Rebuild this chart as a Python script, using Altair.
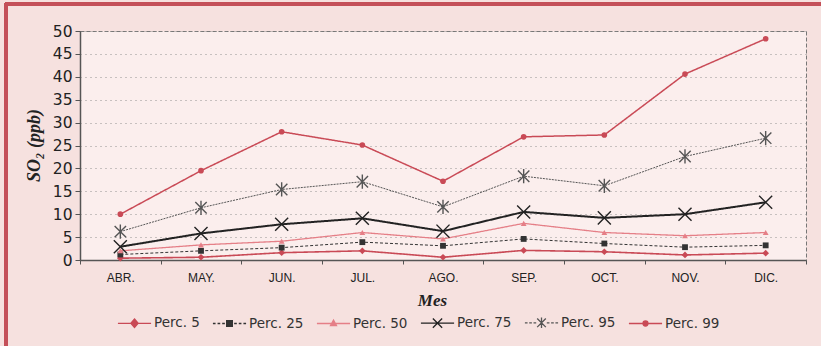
import altair as alt
import pandas as pd

# Monthly SO2 percentiles (ppb)
meses = ["ABR.", "MAY.", "JUN.", "JUL.", "AGO.", "SEP.", "OCT.", "NOV.", "DIC."]
series = ["Perc. 5", "Perc. 25", "Perc. 50", "Perc. 75", "Perc. 95", "Perc. 99"]

p5 = [0.4, 0.6, 1.6, 2.0, 0.6, 2.1, 1.8, 1.1, 1.5]
p25 = [1.2, 2.0, 2.7, 3.9, 3.1, 4.6, 3.6, 2.8, 3.2]
p50 = [2.0, 3.3, 4.1, 6.0, 4.6, 8.0, 6.0, 5.3, 6.0]
p75 = [2.9, 5.8, 7.8, 9.1, 6.3, 10.5, 9.2, 10.0, 12.6]
p95 = [6.2, 11.4, 15.4, 17.1, 11.6, 18.3, 16.2, 22.6, 26.6]
p99 = [10.0, 19.5, 28.0, 25.1, 17.2, 26.9, 27.3, 40.6, 48.3]

valores = [p5, p25, p50, p75, p95, p99]

rows = []
for nombre, vals in zip(series, valores):
    for mes, v in zip(meses, vals):
        rows.append({"Mes": mes, "SO2": v, "Serie": nombre})
df = pd.DataFrame(rows)

# line / marker styling for each series
X_PATH = "M-1,-1L1,1M-1,1L1,-1"
AST_PATH = "M-1,-1L1,1M-1,1L1,-1M0,-1.25L0,1.25"
estilos = {
    "Perc. 5": dict(color="#c94a56", width=1.6, dash=[1, 0], shape="diamond", size=45, filled=True),
    "Perc. 25": dict(color="#333333", width=1.0, dash=[3, 2], shape="square", size=34, filled=True),
    "Perc. 50": dict(color="#e57f87", width=1.3, dash=[1, 0], shape="triangle-up", size=34, filled=True),
    "Perc. 75": dict(color="#222222", width=2.0, dash=[1, 0], shape=X_PATH, size=170, filled=False),
    "Perc. 95": dict(color="#555555", width=1.0, dash=[2, 1], shape=AST_PATH, size=130, filled=False),
    "Perc. 99": dict(color="#c94a56", width=1.5, dash=[1, 0], shape="circle", size=32, filled=True),
}

# legend glyphs: a short line with the marker in the middle
leg_paths = [
    "M-1,0H1M0,-0.26L0.22,0L0,0.26L-0.22,0Z",
    "M-1,0H-0.84M-0.72,0H-0.56M-0.44,0H-0.28M0.28,0H0.44M0.56,0H0.72M0.84,0H1"
    "M-0.17,-0.17H0.17V0.17H-0.17Z",
    "M-1,0H1M0,-0.2L0.18,0.12L-0.18,0.12Z",
    "M-1,0H1M-0.28,-0.28L0.28,0.28M-0.28,0.28L0.28,-0.28",
    "M-1,0H-0.84M-0.74,0H-0.58M-0.48,0H-0.32M0.32,0H0.48M0.58,0H0.74M0.84,0H1"
    "M-0.26,-0.26L0.26,0.26M-0.26,0.26L0.26,-0.26M0,-0.32L0,0.32",
    "M-1,0H1M0.15,0A0.15,0.15 0 1,1 -0.15,0A0.15,0.15 0 1,1 0.15,0Z",
]
leg_colors = [estilos[s]["color"] for s in series]

x_enc = alt.X(
    "Mes:N",
    sort=meses,
    bandPosition=0.5,
    scale=alt.Scale(type="band", paddingInner=0, paddingOuter=0),
    title="Mes",
)
y_enc = alt.Y(
    "SO2:Q",
    scale=alt.Scale(domain=[0, 50], nice=False),
    axis=alt.Axis(values=list(range(0, 51, 5))),
    title="SO₂ (ppb)",
)

layers = []
for nombre in series:
    e = estilos[nombre]
    base = alt.Chart(df).transform_filter(alt.datum.Serie == nombre)
    layers.append(
        base.mark_line(color=e["color"], strokeWidth=e["width"], strokeDash=e["dash"]).encode(x=x_enc, y=y_enc)
    )
    layers.append(
        base.mark_point(
            shape=e["shape"], size=e["size"], filled=e["filled"], color=e["color"],
            strokeWidth=1.4, opacity=1,
        ).encode(x=x_enc, y=y_enc)
    )

leyenda = alt.Legend(
    title=None,
    orient="none",
    direction="horizontal",
    legendX=37,
    legendY=274,
    symbolSize=1100,
    symbolStrokeWidth=1.3,
    symbolOpacity=1,
    labelFont="DejaVu Sans",
    labelFontSize=13.5,
    labelColor="#333333",
    labelOffset=2,
    columnPadding=10,
)
# legend-only layer: no rows reach the mark, the scales carry the entries
leg_layer = (
    alt.Chart(df)
    .transform_filter("datum.SO2 < 0")
    .mark_point(filled=True, opacity=1)
    .encode(
        x=x_enc,
        y=y_enc,
        stroke=alt.Stroke("Serie:N", scale=alt.Scale(domain=series, range=leg_colors), legend=leyenda),
        fill=alt.Fill("Serie:N", scale=alt.Scale(domain=series, range=leg_colors), legend=leyenda),
        shape=alt.Shape("Serie:N", scale=alt.Scale(domain=series, range=leg_paths), legend=leyenda),
    )
)

# outer frame lines
marco_izq = alt.Chart(df).mark_rule(color="#c4505a", strokeWidth=2.5).encode(
    x=alt.value(-74), y=alt.value(-28), y2=alt.value(320)
)
marco_sup = alt.Chart(df).mark_rule(color="#c4505a", strokeWidth=2.5).encode(
    x=alt.value(-75), x2=alt.value(745), y=alt.value(-27)
)

chart = (
    alt.layer(*layers, leg_layer, marco_izq, marco_sup)
    .properties(
        width=726,
        height=229,
        autosize=alt.AutoSizeParams(type="none"),
        padding={"left": 80, "top": 31, "right": 15, "bottom": 86},
        background="#f6e1df",
    )
    .configure_view(fill="#fbeeed", stroke="#777777", strokeDash=[4, 2], strokeWidth=1)
    .configure_axis(
        gridColor="#888888",
        gridDash=[1, 4],
        gridOpacity=0.9,
        domainColor="#555555",
        domainWidth=1.5,
        tickColor="#555555",
        labelColor="#222222",
    )
    .configure_axisX(
        tickBand="extent",
        labelAngle=0,
        labelFont="Liberation Sans",
        labelFontSize=12,
        labelPadding=8,
        tickSize=4,
        titleFont="Liberation Serif",
        titleFontStyle="italic",
        titleFontWeight="bold",
        titleFontSize=17,
        titleX=352,
        titleY=40,
        titleBaseline="middle",
        titleColor="#222222",
    )
    .configure_axisY(
        labelFont="DejaVu Sans",
        labelFontSize=15.5,
        labelPadding=3,
        tickSize=5,
        titleFont="Liberation Serif",
        titleFontStyle="italic",
        titleFontWeight="bold",
        titleFontSize=18,
        titleAngle=270,
        titleX=-46,
        titleY=114,
        titleAlign="center",
        titleBaseline="middle",
        titleColor="#222222",
    )
)

chart.save("out.html", embed_options={"renderer": "svg", "actions": False})
